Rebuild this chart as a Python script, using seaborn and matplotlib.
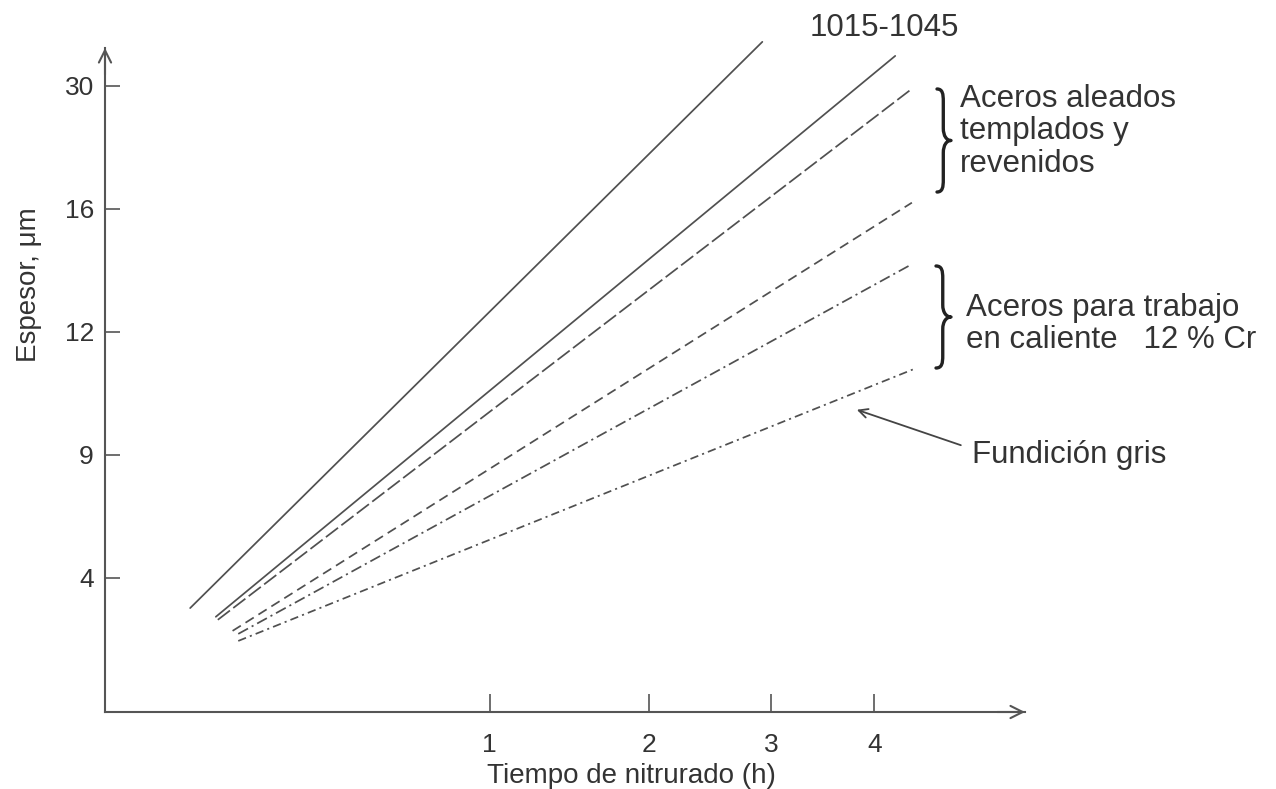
import numpy as np
import pandas as pd
import matplotlib
matplotlib.use("Agg")
import matplotlib.pyplot as plt
import seaborn as sns
from matplotlib.path import Path
from matplotlib.patches import PathPatch

# Curves: nitriding time (h) and layer thickness (um) at both ends
curve_names = ["1015-1045 a", "1015-1045 b", "Aleado a", "Aleado b",
               "Trabajo en caliente", "Fundicion gris"]
time_start = [0.049, 0.083, 0.086, 0.11, 0.12, 0.12]
time_end = [2.92, 4.22, 4.38, 4.40, 4.40, 4.43]
thick_start = [3.1, 2.84, 2.75, 2.42, 2.33, 2.12]
thick_end = [35.0, 33.4, 29.5, 16.7, 14.2, 11.1]

x_ticks = [1, 2, 3, 4]
y_ticks = [4, 9, 12, 16, 30]

line_styles = {
    "1015-1045 a": "",
    "1015-1045 b": "",
    "Aleado a": (11, 3),
    "Aleado b": (7, 4),
    "Trabajo en caliente": (8, 3, 1.5, 3),
    "Fundicion gris": (6, 3, 1.5, 3),
}

rows = []
for name, t0, t1, s0, s1 in zip(curve_names, time_start, time_end, thick_start, thick_end):
    rows.append({"curva": name, "t": t0, "e": s0})
    rows.append({"curva": name, "t": t1, "e": s1})
df = pd.DataFrame(rows)

sns.set_theme(style="white")
plt.rcParams["font.family"] = ["Liberation Sans", "DejaVu Sans"]
plt.rcParams["lines.scale_dashes"] = False

W, H = 1276, 789
fig = plt.figure(figsize=(W / 100, H / 100), dpi=100)
ax = fig.add_axes([105 / W, (H - 712) / H, (1025 - 105) / W, (712 - 48) / H])

# Thickness axis: the labelled values are drawn equally spaced
v_knots = np.array([0.0] + y_ticks, float)
l_knots = np.concatenate([[0.0], np.arange(len(y_ticks)) + 1.09])


def y_fwd(v):
    v = np.asarray(v, float)
    out = np.interp(v, v_knots, l_knots)
    hi = (l_knots[-1] - l_knots[-2]) / (v_knots[-1] - v_knots[-2])
    lo = (l_knots[1] - l_knots[0]) / (v_knots[1] - v_knots[0])
    out = np.where(v > v_knots[-1], l_knots[-1] + (v - v_knots[-1]) * hi, out)
    out = np.where(v < v_knots[0], l_knots[0] + (v - v_knots[0]) * lo, out)
    return out


def y_inv(p):
    p = np.asarray(p, float)
    out = np.interp(p, l_knots, v_knots)
    hi = (v_knots[-1] - v_knots[-2]) / (l_knots[-1] - l_knots[-2])
    lo = (v_knots[1] - v_knots[0]) / (l_knots[1] - l_knots[0])
    out = np.where(p > l_knots[-1], v_knots[-1] + (p - l_knots[-1]) * hi, out)
    out = np.where(p < l_knots[0], v_knots[0] + (p - l_knots[0]) * lo, out)
    return out


def x_fwd(t):
    return np.sqrt(np.clip(np.asarray(t, float), 0, None))


def x_inv(s):
    return np.square(np.asarray(s, float))


ax.set_xscale("function", functions=(x_fwd, x_inv))
ax.set_yscale("function", functions=(y_fwd, y_inv))

line_color = "#505050"
sns.lineplot(data=df, x="t", y="e", hue="curva", style="curva",
             palette=[line_color] * len(curve_names), dashes=line_styles,
             estimator=None, sort=False, legend=False, linewidth=1.25, ax=ax)
for ln in ax.get_lines():
    ln.set_clip_on(False)

ax.set_xlim(0, 5.72)
ax.set_ylim(0, 34.3)

ax.set_xticks(x_ticks)
ax.set_xticklabels([str(v) for v in x_ticks])
ax.set_yticks(y_ticks)
ax.set_yticklabels([str(v) for v in y_ticks])
ax.minorticks_off()

axis_color = "#555555"
text_color = "#333333"
for side in ["top", "right"]:
    ax.spines[side].set_visible(False)
for side in ["left", "bottom"]:
    ax.spines[side].set_color(axis_color)
    ax.spines[side].set_linewidth(1.5)

ax.tick_params(axis="y", direction="in", length=11, width=1.2, color=axis_color,
               labelsize=19, labelcolor=text_color, pad=8, left=True)
ax.tick_params(axis="x", direction="in", length=13, width=1.2, color=axis_color,
               labelsize=19, labelcolor=text_color, pad=15, bottom=True)

ax.set_xlabel("Tiempo de nitrurado (h)", fontsize=20, color=text_color)
ax.xaxis.set_label_coords(0.572, -0.077)
ax.set_ylabel("Espesor, \u03bcm", fontsize=20, color=text_color)
ax.yaxis.set_label_coords(-0.069, 0.643)

# Open arrowheads at the ends of both axes
arrow_kw = dict(arrowstyle="->", color=axis_color, lw=1.5, mutation_scale=22,
                shrinkA=0, shrinkB=0)
ax.annotate("", xy=(1.0, 0), xytext=(0.97, 0), xycoords="axes fraction",
            arrowprops=arrow_kw, annotation_clip=False)
ax.annotate("", xy=(0, 1.0), xytext=(0, 0.96), xycoords="axes fraction",
            arrowprops=arrow_kw, annotation_clip=False)


def fig_xy(px, py):
    return px / W, 1 - py / H


def add_brace(x0, top, bot, w):
    """Curly brace opening to the left, its point facing right."""
    mid = (top + bot) / 2
    xm = x0 + w * 0.45
    r = (bot - top) * 0.12
    pts = [(x0, top),
           (x0 + w * 0.4, top), (xm, top + r * 0.4), (xm, top + r),
           (xm, mid - r),
           (xm, mid - r * 0.35), (x0 + w * 0.7, mid), (x0 + w, mid),
           (x0 + w * 0.7, mid), (xm, mid + r * 0.35), (xm, mid + r),
           (xm, bot - r),
           (xm, bot - r * 0.4), (x0 + w * 0.4, bot), (x0, bot)]
    codes = [Path.MOVETO,
             Path.CURVE4, Path.CURVE4, Path.CURVE4,
             Path.LINETO,
             Path.CURVE4, Path.CURVE4, Path.CURVE4,
             Path.CURVE4, Path.CURVE4, Path.CURVE4,
             Path.LINETO,
             Path.CURVE4, Path.CURVE4, Path.CURVE4]
    verts = [(px / 100, (H - py) / 100) for px, py in pts]
    patch = PathPatch(Path(verts, codes), facecolor="none", edgecolor="#222222",
                      lw=2.4, capstyle="round", joinstyle="round",
                      transform=fig.dpi_scale_trans, clip_on=False)
    fig.add_artist(patch)


add_brace(937, 89, 192, 14)
add_brace(936, 266, 368, 15)

fs = 22.5
fig.text(*fig_xy(810, 28), "1015-1045", fontsize=fs, color=text_color,
         ha="left", va="center")
fig.text(*fig_xy(960, 84), "Aceros aleados\ntemplados y\nrevenidos", fontsize=fs,
         color=text_color, ha="left", va="top", linespacing=1.1)
fig.text(*fig_xy(966, 293), "Aceros para trabajo\nen caliente   12 % Cr", fontsize=fs,
         color=text_color, ha="left", va="top", linespacing=1.1)

ax.annotate("Fundici\u00f3n gris", xy=(3.82, 10.1), xycoords="data",
            xytext=fig_xy(972, 455), textcoords="figure fraction",
            fontsize=fs, color=text_color, ha="left", va="center",
            arrowprops=dict(arrowstyle="->", color="#444444", lw=1.3,
                            mutation_scale=16, shrinkA=6, shrinkB=0,
                            relpos=(0, 0.7)),
            annotation_clip=False)

fig.savefig("out.png", dpi=100, facecolor="white")
